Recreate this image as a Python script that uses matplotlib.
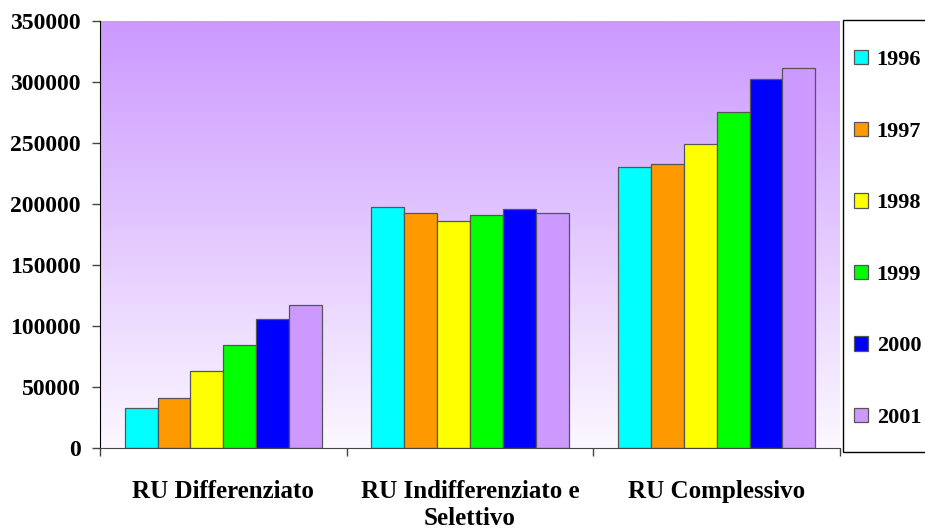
import numpy as np
import matplotlib
matplotlib.use("Agg")
import matplotlib.pyplot as plt
from matplotlib.colors import LinearSegmentedColormap
from matplotlib.patches import Rectangle

categories = ["RU Differenziato", "RU Indifferenziato e\nSelettivo", "RU Complessivo"]
years = ["1996", "1997", "1998", "1999", "2000", "2001"]
colors = ["#00FFFF", "#FF9900", "#FFFF00", "#00FF00", "#0000FF", "#CC99FF"]

values = {
    "1996": [32500, 197500, 230100],
    "1997": [41000, 192400, 233100],
    "1998": [62900, 186300, 248900],
    "1999": [84200, 190700, 275700],
    "2000": [105700, 195600, 302200],
    "2001": [117500, 192600, 311200],
}
yticks = [0, 50000, 100000, 150000, 200000, 250000, 300000, 350000]

plt.rcParams["font.family"] = ["Liberation Serif", "DejaVu Serif"]
plt.rcParams["font.weight"] = "bold"

fig = plt.figure(figsize=(9.25, 5.28), dpi=100)
fig.patch.set_facecolor("white")
ax = fig.add_axes([100 / 925, 1 - 448 / 528, 740 / 925, 427 / 528])

# gradient background, purple at the top fading to white
grad = LinearSegmentedColormap.from_list("bg", ["#FBF8FF", "#CC99FF"])
ax.imshow(np.linspace(0, 1, 256).reshape(-1, 1), cmap=grad, aspect="auto",
          extent=(-0.5, 2.5, 0, 350000), origin="lower", zorder=0)

x = np.arange(len(categories))
w = 0.8 / len(years)
for i, (yr, col) in enumerate(zip(years, colors)):
    ax.bar(x + (i - 2.5) * w, values[yr], width=w, color=col,
           edgecolor="#555555", linewidth=0.9, zorder=2, label=yr)

ax.set_xlim(-0.5, 2.5)
ax.set_ylim(0, 350000)
ax.set_yticks(yticks)
ax.set_yticklabels([str(v) for v in yticks], fontsize=17, fontweight="bold")
ax.set_xticks(x)
ax.set_xticklabels(categories, fontsize=18, fontweight="bold", linespacing=1.25)
ax.set_xticks([-0.5, 0.5, 1.5, 2.5], minor=True)
ax.tick_params(axis="x", which="major", length=0, pad=23)
ax.tick_params(axis="x", which="minor", length=6, width=1, color="#444444")
ax.tick_params(axis="y", length=6, width=1, color="#444444", pad=8)

for s in ["top", "right"]:
    ax.spines[s].set_visible(False)
ax.spines["left"].set_color("black")
ax.spines["bottom"].set_color("#444444")

# legend frame, running off the right edge of the picture
fig.patches.append(Rectangle((843 / 925, 1 - 452 / 528), 0.2, 432 / 528,
                             transform=fig.transFigure, facecolor="white",
                             edgecolor="black", linewidth=1, zorder=-1))
leg = ax.legend(loc="upper left", bbox_to_anchor=(854 / 925, 1 - 50 / 528),
                bbox_transform=fig.transFigure, frameon=False, borderpad=0,
                borderaxespad=0, handlelength=0.62, handleheight=0.62,
                handletextpad=0.4, labelspacing=2.32,
                prop={"size": 16, "weight": "bold"})

fig.savefig("out.png", dpi=100)
